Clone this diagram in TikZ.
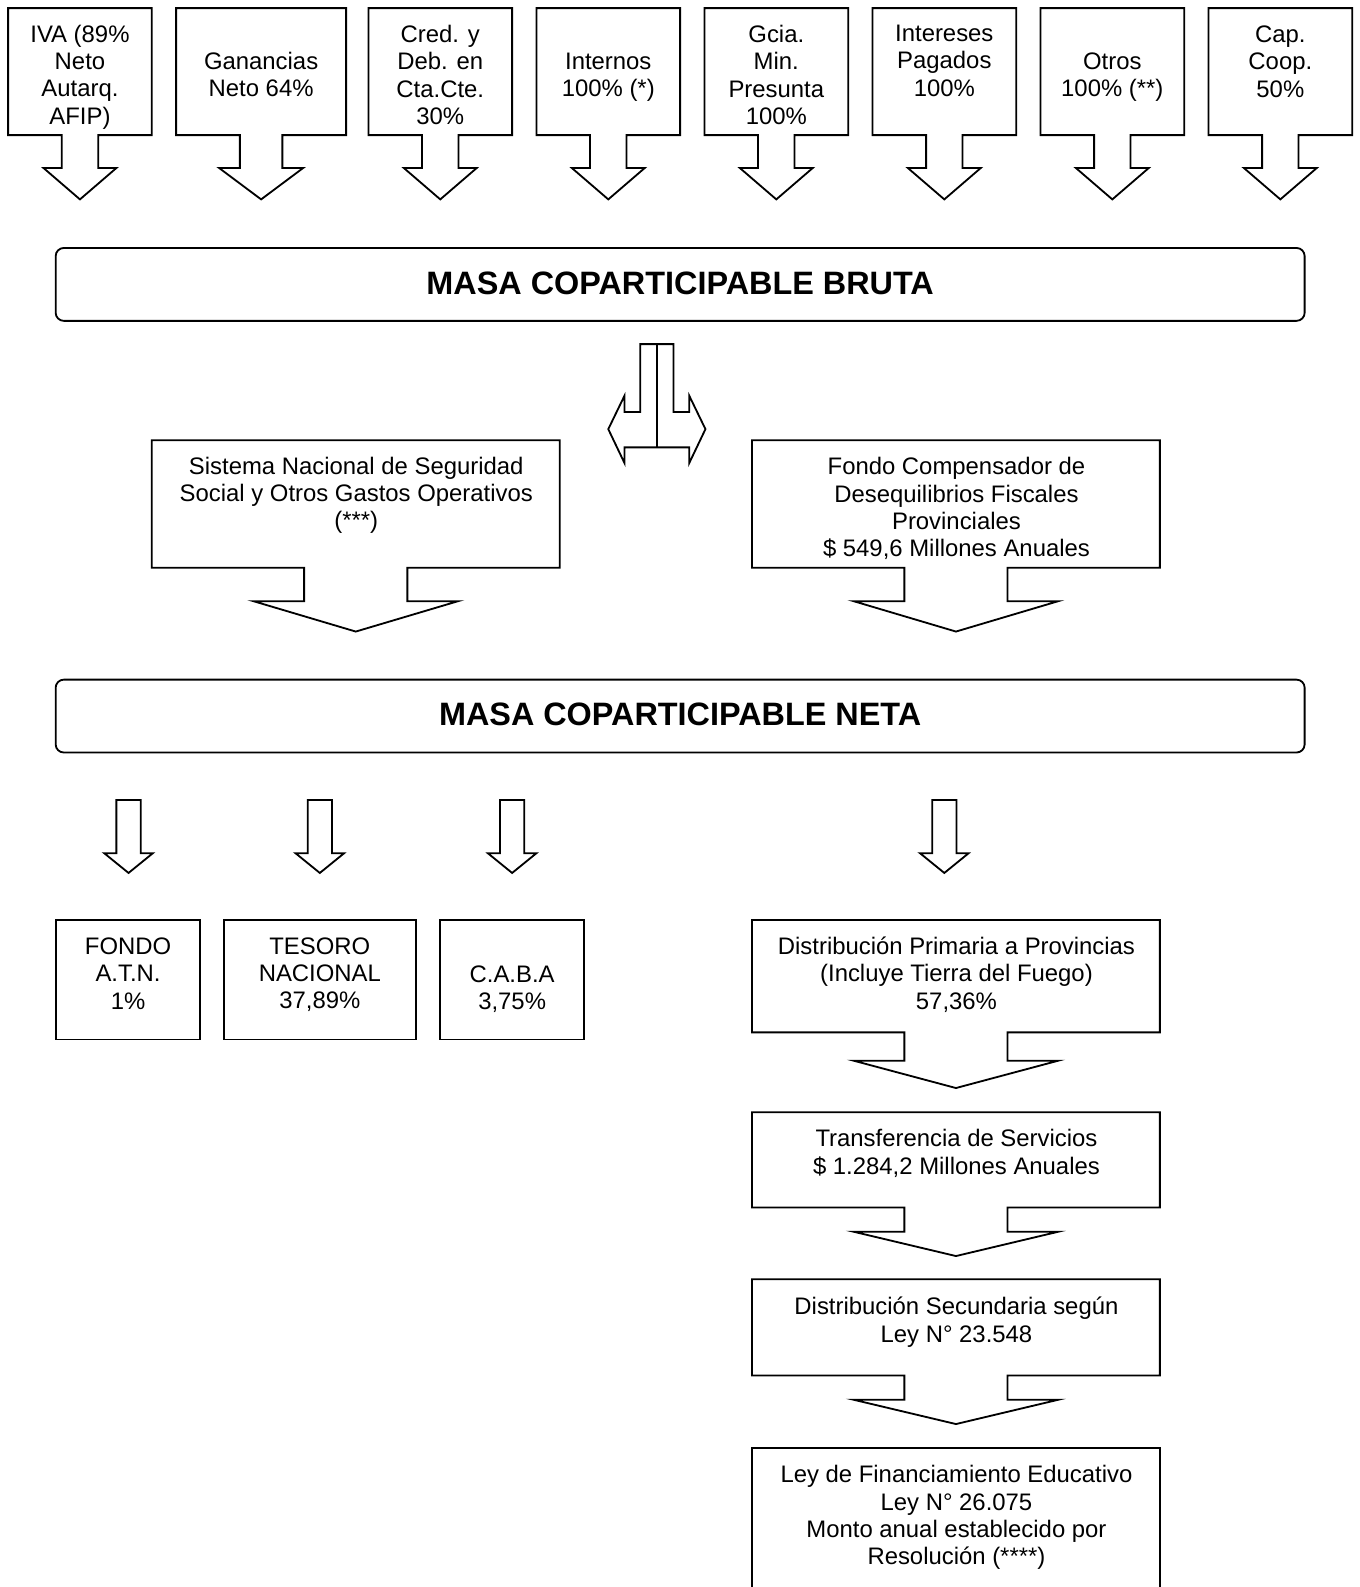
\documentclass[tikz,border=0pt]{standalone}
\usepackage{fontspec}
\setmainfont{Liberation Sans}

\tikzset{blk/.style={draw=black, line width=0.9pt, line join=miter}}
\tikzset{txt/.style={align=center, inner sep=0pt, font=\fontsize{11.8}{13.5}\selectfont}}
\tikzset{masa/.style={blk, rounded corners=4pt, minimum width=617pt, minimum height=36pt,
  inner sep=0pt, font=\fontsize{16}{18}\selectfont\bfseries}}

% box with a block arrow under it: centre x, half width, top, bottom, half shaft, half head, head y, tip y
\newcommand{\calloutbox}[8]{%
  \draw[blk] ({#1-#2},#3) -- ({#1+#2},#3) -- ({#1+#2},#4) -- ({#1+#5},#4) -- ({#1+#5},#7)
    -- ({#1+#6},#7) -- (#1,#8) -- ({#1-#6},#7) -- ({#1-#5},#7) -- ({#1-#5},#4)
    -- ({#1-#2},#4) -- cycle;}
% plain block arrow: centre x, top, half shaft, half head, head y, tip y
\newcommand{\blockarrow}[6]{%
  \draw[blk] ({#1-#3},#2) -- ({#1+#3},#2) -- ({#1+#3},#5) -- ({#1+#4},#5) -- (#1,#6)
    -- ({#1-#4},#5) -- ({#1-#3},#5) -- cycle;}

\begin{document}
\begin{tikzpicture}[x=0.5pt, y=-0.5pt]
  \useasboundingbox (0,0) rectangle (1343,1568);

  % impuestos
  \foreach \cx/\hw/\sh/\wh in {79/71/18/36, 258/84/21/41.5, 435/71/18/36, 601/71/18/36,
      767/71/18/36, 933/71/18/36, 1099/71/18/36, 1265/71/18/36}
    \calloutbox{\cx}{\hw}{8}{133.5}{\sh}{\wh}{166}{197};

  \node[txt] (iva) at (79,76) {IVA (89\%\\Neto\\Autarq.\\AFIP)};
  \node[txt] (ganancias) at (258,73.5) {Ganancias\\Neto 64\%};
  \node[txt] (credeb) at (435,74) {Cred. y\\Deb. en\\Cta.Cte.\\30\%};
  \node[txt] (internos) at (601,76.5) {Internos\\100\% (*)};
  \node[txt] (gmp) at (767,74) {Gcia.\\Min.\\Presunta\\100\%};
  \node[txt] (intereses) at (933,60) {Intereses\\Pagados\\100\%};
  \node[txt] (otros) at (1099,76.5) {Otros\\100\% (**)};
  \node[txt] (capcoop) at (1265,61) {Cap.\\Coop.\\50\%};

  \node[masa] (bruta) at (672,281) {\raisebox{1.2pt}{MASA COPARTICIPABLE BRUTA}};

  % flecha doble
  \draw[blk] (632.5,340) -- (632.5,407) -- (617,407) -- (617,391) -- (601,424) -- (617,457.5)
    -- (617,442) -- (681,442) -- (681,457.5) -- (697,424) -- (681,391) -- (681,407)
    -- (665.5,407) -- (665.5,340) -- cycle;
  \draw[blk] (649,340) -- (649,442);

  \calloutbox{351.5}{201.5}{435}{561}{51}{101}{594}{624}
  \calloutbox{944.5}{201.5}{435}{561}{51}{101}{594}{624}
  \node[txt] (sipa) at (352,489.5) {Sistema Nacional de Seguridad\\Social y Otros Gastos Operativos\\(***)};
  \node[txt] (fondocomp) at (945,502.5) {Fondo Compensador de\\Desequilibrios Fiscales\\Provinciales\\\$ 549,6 Millones Anuales};

  \node[masa] (neta) at (672,707.5) {\raisebox{1.5pt}{MASA COPARTICIPABLE NETA}};

  \foreach \cx in {127,316,506,933}
    \blockarrow{\cx}{790.5}{12}{24}{843}{862.5};

  % distribucion
  \draw[blk] (55,909) rectangle (198,1027);
  \draw[blk] (221,909) rectangle (411,1027);
  \draw[blk] (435,909) rectangle (577,1027);
  \node[txt] (atn) at (126.5,962) {FONDO\\A.T.N.\\1\%};
  \node[txt] (tesoro) at (316,963) {TESORO\\NACIONAL\\37,89\%};
  \node[txt] (caba) at (506,977.5) {C.A.B.A\\3,75\%};

  \calloutbox{944.5}{201.5}{909}{1020}{51}{101}{1048}{1075}
  \calloutbox{944.5}{201.5}{1099}{1193}{51}{101}{1217}{1241}
  \calloutbox{944.5}{201.5}{1264}{1359}{51}{101}{1383}{1407}
  \draw[blk] (743,1568) -- (743,1431) -- (1146,1431) -- (1146,1568);

  \node[txt] (primaria) at (945,963) {Distribución Primaria a Provincias\\(Incluye Tierra del Fuego)\\57,36\%};
  \node[txt] (transf) at (945,1139.5) {Transferencia de Servicios\\\$ 1.284,2 Millones Anuales};
  \node[txt] (secundaria) at (945,1306.5) {Distribución Secundaria según\\Ley N° 23.548};
  \node[txt] (educativo) at (945,1499.5) {Ley de Financiamiento Educativo\\Ley N° 26.075\\Monto anual establecido por\\Resolución (****)};
\end{tikzpicture}
\end{document}
